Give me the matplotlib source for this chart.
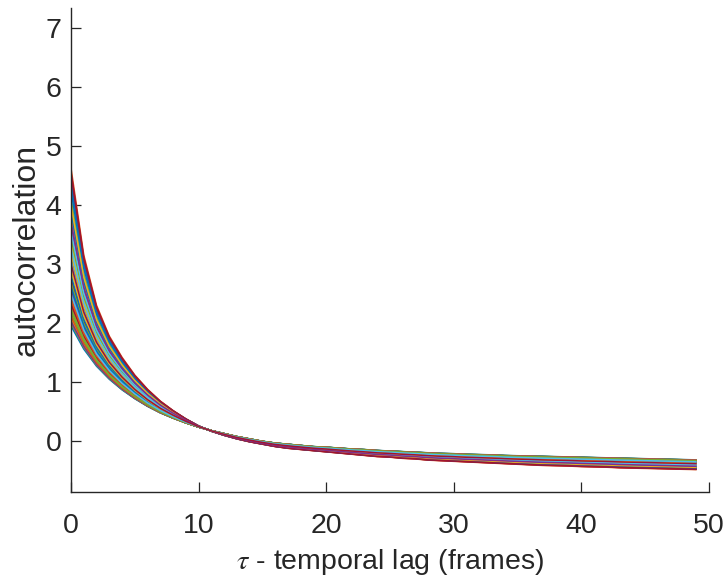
import numpy as np
import matplotlib
matplotlib.use("Agg")
import matplotlib.pyplot as plt

# lags (frames)
lags = list(range(50))

# envelope curve read for the highest-starting curve (ends lowest)
hi_curve = [4.62, 3.15, 2.30, 1.78, 1.42, 1.12, 0.88, 0.68, 0.52, 0.38,
            0.26, 0.17, 0.10, 0.04, -0.01, -0.05, -0.09, -0.12, -0.14, -0.16,
            -0.18, -0.20, -0.22, -0.24, -0.26, -0.27, -0.29, -0.30, -0.32, -0.33,
            -0.34, -0.35, -0.36, -0.37, -0.38, -0.39, -0.40, -0.41, -0.415, -0.42,
            -0.43, -0.435, -0.44, -0.45, -0.455, -0.46, -0.465, -0.47, -0.475, -0.48]
# envelope curve read for the lowest-starting curve (ends highest)
lo_curve = [1.95, 1.56, 1.27, 1.05, 0.87, 0.72, 0.59, 0.48, 0.39, 0.31,
            0.24, 0.18, 0.13, 0.08, 0.04, 0.00, -0.03, -0.05, -0.07, -0.09,
            -0.10, -0.115, -0.13, -0.14, -0.155, -0.165, -0.175, -0.185, -0.195, -0.205,
            -0.21, -0.22, -0.225, -0.23, -0.24, -0.245, -0.25, -0.255, -0.26, -0.265,
            -0.27, -0.275, -0.28, -0.285, -0.29, -0.295, -0.30, -0.305, -0.31, -0.315]

# autocorrelation at lag 0 for each curve (read from left edge)
start_values = [
    2.31, 3.87, 2.05, 2.74, 4.12, 2.48, 3.15, 2.19, 2.93, 3.56, 2.62, 2.11, 4.45, 2.83, 3.02, 2.37, 1.98, 3.41, 2.56, 2.27,
    3.69, 2.44, 2.15, 3.24, 2.71, 4.28, 2.02, 2.89, 3.51, 2.34, 2.60, 3.97, 2.23, 3.11, 2.52, 2.08, 4.62, 2.79, 3.33, 2.41,
    2.17, 3.78, 1.95, 2.29, 3.06, 2.47, 2.66, 3.62, 2.86, 2.13, 4.05, 2.39, 2.97, 2.25, 3.46, 2.58, 2.01, 3.19, 2.69, 4.35,
    2.33, 2.10, 3.83, 2.51, 2.77, 3.28, 2.21, 2.04, 3.92, 4.55, 2.43, 3.09, 2.18, 2.64, 2.91, 2.36, 3.58, 2.07, 2.54, 3.37,
    2.81, 2.26, 4.19, 2.12, 2.99, 2.45, 3.73, 2.67, 2.00, 3.22, 2.38, 2.85, 3.49, 2.14, 2.59, 4.08, 2.30, 2.72, 3.13, 2.22,
    2.50, 3.65, 2.06, 2.95, 2.42, 4.39, 2.28, 3.31, 2.63, 2.16, 3.04, 2.75, 3.88, 2.35, 2.09, 2.57, 3.44, 2.87, 2.20, 4.24,
    2.46, 3.17, 2.03, 2.68, 3.54, 2.32, 2.80, 2.11, 3.99, 2.53, 2.24, 3.27, 4.51, 2.61, 2.40, 2.90, 3.71, 2.19, 2.49, 3.00,
]

matlab_colors = ["#0072BD", "#D95319", "#EDB120", "#7E2F8E", "#77AC30", "#4DBEEE", "#A2142F"]

x_ticks = [0, 10, 20, 30, 40, 50]
y_ticks = [0, 1, 2, 3, 4, 5, 6, 7]

plt.rcParams["font.family"] = ["Liberation Sans", "DejaVu Sans"]
plt.rcParams["mathtext.fontset"] = "stix"

fig = plt.figure(figsize=(7.27, 5.83), dpi=100)
ax = fig.add_axes([0.0977, 0.156, 0.877, 0.830])

hi = np.array(hi_curve)
lo = np.array(lo_curve)
for i, s in enumerate(start_values):
    f = (s - lo[0]) / (hi[0] - lo[0])
    ax.plot(lags, lo + f * (hi - lo), color=matlab_colors[i % 7], lw=1.1)

ax.set_xlim(0, 50)
ax.set_ylim(-0.86, 7.33)
ax.set_xticks(x_ticks)
ax.set_yticks(y_ticks)
axc = "#262626"
for side in ["top", "right"]:
    ax.spines[side].set_visible(False)
for side in ["left", "bottom"]:
    ax.spines[side].set_color(axc)
    ax.spines[side].set_linewidth(1.0)
ax.tick_params(direction="in", length=7, width=0.9, colors=axc, labelsize=20.5)
ax.tick_params(axis="x", pad=15)
ax.tick_params(axis="y", pad=7)
ax.set_xlabel(r"$\tau$ - temporal lag (frames)", fontsize=20.5, color=axc, labelpad=6)
ax.set_ylabel("autocorrelation", fontsize=23, color=axc, labelpad=3)

fig.savefig("out.png", dpi=100)
